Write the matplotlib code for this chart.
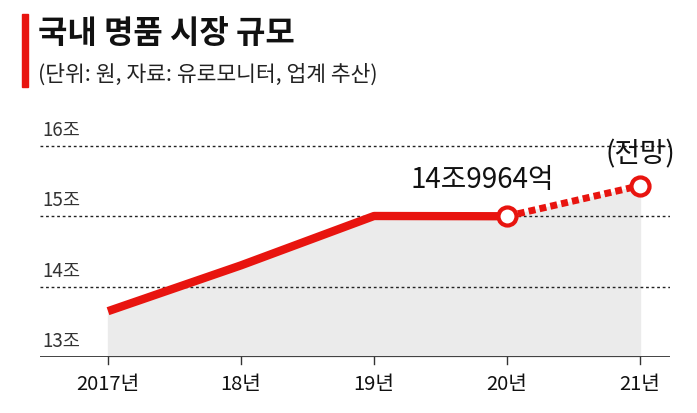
import matplotlib
matplotlib.use("Agg")
import matplotlib.pyplot as plt

plt.rcParams['font.family'] = ['Noto Sans CJK KR', 'DejaVu Sans']

years = ["2017년", "18년", "19년", "20년", "21년"]
values = [13.65, 14.3, 15.0, 14.9964, 15.43]
yticks = [13, 14, 15, 16]
ylabels = ["13조", "14조", "15조", "16조"]

W, H = 697, 414
fig = plt.figure(figsize=(W/100, H/100), dpi=100)
ax = fig.add_axes([40/W, 1-358/H, 630/W, 228/H])
x = list(range(len(years)))
x0 = -68/133
ax.set_xlim(x0, x0 + 630/133)
ax.set_ylim(13, 13 + 228/70.5)
ax.fill_between(x, values, 13, color="#ebebeb", zorder=1)
for t, lab in zip(yticks, ylabels):
    ls = '-' if t == 13 else (0, (2, 2))
    ax.axhline(t, color="#222222", lw=1.2 if t == 13 else 1, ls=ls, zorder=2)
    ax.text(x0 + 2/133, t + 0.08, lab, fontsize=13.5, color="#333", va="bottom", ha="left")
ax.plot(x[:4], values[:4], color="#e8140f", lw=6, solid_capstyle="butt", zorder=3)
ax.plot(x[3:], values[3:], color="#e8140f", lw=5, ls=(0, (1, 0.6)), zorder=3)
ax.plot(x[3:], values[3:], 'o', ms=13, mfc="white", mec="#e8140f", mew=3, zorder=4)
ax.text(3.35, values[3] + 0.32, "14조9964억", fontsize=20, ha="right", va="bottom", color="#111")
ax.text(4.0, values[4] + 0.25, "(전망)", fontsize=20, ha="center", va="bottom", color="#111")
for xi, lab in zip(x, years):
    ax.plot([xi, xi], [13, 12.9], color="#333", lw=1, clip_on=False)
    ax.text(xi, 12.63, lab, fontsize=14.5, ha="center", va="center", color="#111")
for s in ax.spines.values():
    s.set_visible(False)
ax.set_xticks([]); ax.set_yticks([])

fig.patches.append(plt.Rectangle((22/W, 1-88/H), 6/W, 73/H, transform=fig.transFigure, color="#e8140f"))
fig.text(38/W, 1-34/H, "국내 명품 시장 규모", fontsize=23, fontweight="bold", va="center", color="#111")
fig.text(38/W, 1-75/H, "(단위: 원, 자료: 유로모니터, 업계 추산)", fontsize=15.5, va="center", color="#222")
fig.savefig("out.png", dpi=100)
